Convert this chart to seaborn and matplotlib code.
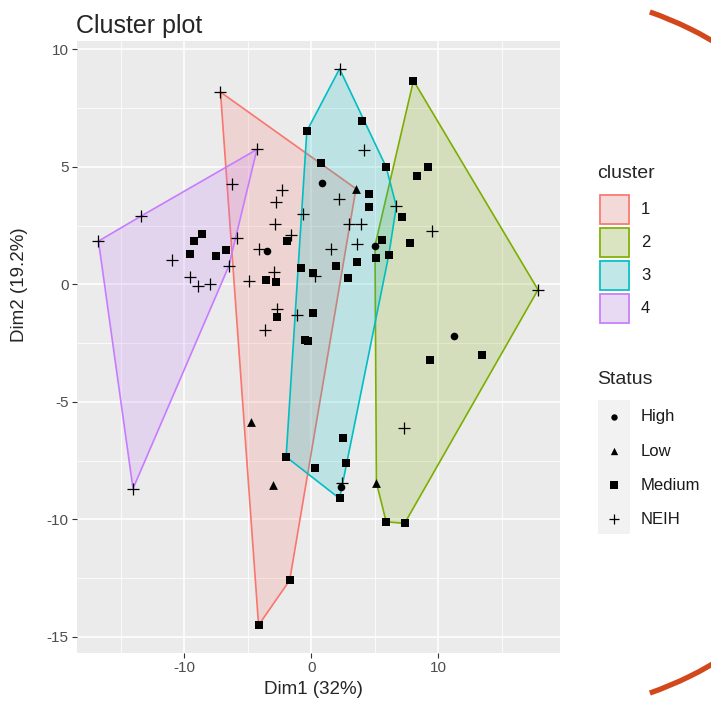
### Imports of the program
import matplotlib
matplotlib.use("Agg")
import matplotlib.pyplot as plt
from matplotlib.patches import Rectangle, Arc
import numpy as np
import pandas as pd
import seaborn as sns

### Data (Dim1, Dim2, Status) per cluster
c1_x = [-7.16, 3.51, -1.71, -4.16, -4.75, -3.02, -6.22, -5.84, -2.30, -2.77, -2.87, -1.60,
        -1.96, -4.88, -4.11, -3.51, -3.59, -2.77, -2.95, -2.69, -2.74, -3.64, 0.80]
c1_y = [8.18, 4.07, -12.59, -14.50, -5.85, -8.55, 4.28, 1.99, 4.03, 3.50, 2.58, 2.08,
        1.84, 0.13, 1.52, 1.42, 0.20, 0.10, 0.52, -1.03, -1.39, -1.93, 4.32]
c1_s = ["NEIH", "Low", "Medium", "Medium", "Low", "Low", "NEIH", "NEIH", "NEIH", "NEIH", "NEIH", "NEIH",
        "Medium", "NEIH", "NEIH", "High", "Medium", "Medium", "NEIH", "NEIH", "Medium", "NEIH", "High"]

c2_x = [8.04, 17.85, 7.34, 5.89, 5.12, 5.01, 9.15, 8.29, 9.46, 7.13, 7.73, 11.26, 13.41, 9.33, 7.26, 5.58]
c2_y = [8.67, -0.23, -10.17, -10.10, -8.43, 1.65, 4.99, 4.62, 2.27, 2.86, 1.77, -2.20, -2.99, -3.23, -6.09, 1.87]
c2_s = ["Medium", "NEIH", "Medium", "Medium", "Low", "High", "Medium", "Medium", "NEIH", "Medium", "Medium",
        "High", "Medium", "Medium", "NEIH", "Medium"]

c3_x = [2.22, 3.98, 5.89, 6.69, 6.10, 2.69, 2.22, -1.99, -0.67, -0.36, 4.11, 0.75, 2.15, 4.55, 4.55,
        3.00, 3.90, 3.57, 1.57, 5.12, 3.59, 1.91, 2.87, -0.80, 0.10, 0.30, 0.16, -0.49, -0.23, -1.14,
        0.29, 2.48, 2.43, 2.35]
c3_y = [9.17, 6.94, 4.99, 3.32, 1.26, -7.58, -9.11, -7.34, 2.98, 6.52, 5.70, 5.17, 3.64, 3.83, 3.29,
        2.58, 2.58, 1.73, 1.49, 1.12, 0.95, 0.78, 0.27, 0.69, 0.48, 0.35, -1.20, -2.35, -2.41, -1.29,
        -7.81, -6.53, -8.43, -8.64]
c3_s = ["NEIH", "Medium", "Medium", "NEIH", "Medium", "Medium", "Medium", "Medium", "NEIH", "Medium",
        "NEIH", "Medium", "NEIH", "Medium", "Medium", "NEIH", "NEIH", "NEIH", "NEIH", "Medium", "Medium",
        "Medium", "Medium", "Medium", "Medium", "NEIH", "Medium", "Medium", "Medium", "NEIH",
        "Medium", "Medium", "NEIH", "High"]

c4_x = [-4.29, -13.46, -16.77, -14.05, -6.51, -8.63, -9.22, -9.53, -10.95, -7.52, -6.74, -9.59, -8.94, -7.98]
c4_y = [5.74, 2.89, 1.84, -8.69, 0.77, 2.16, 1.84, 1.28, 1.02, 1.19, 1.45, 0.31, -0.09, 0.03]
c4_s = ["NEIH", "NEIH", "NEIH", "NEIH", "NEIH", "Medium", "Medium", "Medium", "NEIH", "Medium", "Medium",
        "NEIH", "NEIH", "NEIH"]

clusters = ["1", "2", "3", "4"]
cluster_colors = ["#F8766D", "#7CAE00", "#00BFC4", "#C77CFF"]
statuses = ["High", "Low", "Medium", "NEIH"]
status_markers = {"High": "o", "Low": "^", "Medium": "s", "NEIH": "+"}
status_sizes = {"High": 30, "Low": 40, "Medium": 40, "NEIH": 80}


def convex_hull(pts):
    """Monotone chain convex hull, returns the hull vertices in order"""
    pts = sorted(set(pts))
    def cross(o, a, b):
        return (a[0] - o[0]) * (b[1] - o[1]) - (a[1] - o[1]) * (b[0] - o[0])
    lower, upper = [], []
    for p in pts:
        while len(lower) >= 2 and cross(lower[-2], lower[-1], p) <= 0:
            lower.pop()
        lower.append(p)
    for p in reversed(pts):
        while len(upper) >= 2 and cross(upper[-2], upper[-1], p) <= 0:
            upper.pop()
        upper.append(p)
    return lower[:-1] + upper[:-1]


def main():
    ## Builds one table from the lists
    frames = []
    for c, xs, ys, ss in zip(clusters, [c1_x, c2_x, c3_x, c4_x], [c1_y, c2_y, c3_y, c4_y],
                             [c1_s, c2_s, c3_s, c4_s]):
        frames.append(pd.DataFrame({"Dim1": xs, "Dim2": ys, "Status": ss, "cluster": c}))
    data = pd.concat(frames, ignore_index=True)

    sns.set_theme(style="darkgrid", rc={
        "axes.facecolor": "#EBEBEB", "grid.color": "white",
        "xtick.color": "#333333", "ytick.color": "#333333",
        "axes.unicode_minus": False,
    })
    plt.rcParams["font.family"] = ["Liberation Sans", "DejaVu Sans"]

    fig = plt.figure(figsize=(7.11, 7.05), dpi=100)
    W, H = 711, 705
    left, right, top, bottom = 76.5, 560, 41, 653
    ax = fig.add_axes([left / W, 1 - bottom / H, (right - left) / W, (bottom - top) / H])

    ## Hulls of the clusters
    for c, col in zip(clusters, cluster_colors):
        sub = data[data["cluster"] == c]
        hull = convex_hull(list(zip(sub["Dim1"], sub["Dim2"])))
        hx = [p[0] for p in hull]
        hy = [p[1] for p in hull]
        ax.fill(hx, hy, facecolor=col, alpha=0.2, zorder=2, linewidth=0)
        ax.fill(hx, hy, facecolor="none", edgecolor=col, linewidth=1.2, zorder=2)

    ## Points by status
    for s in statuses:
        sub = data[data["Status"] == s]
        kw = dict(linewidth=0.9) if s == "NEIH" else dict(linewidth=0, edgecolor="black")
        sns.scatterplot(data=sub, x="Dim1", y="Dim2", marker=status_markers[s], color="black",
                        s=status_sizes[s], ax=ax, legend=False, zorder=3, **kw)

    ## Limits with ggplot expansion
    xr = data["Dim1"].max() - data["Dim1"].min()
    yr = data["Dim2"].max() - data["Dim2"].min()
    ax.set_xlim(data["Dim1"].min() - 0.05 * xr, data["Dim1"].max() + 0.05 * xr)
    ax.set_ylim(data["Dim2"].min() - 0.05 * yr, data["Dim2"].max() + 0.05 * yr)
    ax.set_xticks([-10, 0, 10])
    ax.set_xticks([-15, -5, 5, 15], minor=True)
    ax.set_yticks([-15, -10, -5, 0, 5, 10])
    ax.set_yticks([-12.5, -7.5, -2.5, 2.5, 7.5], minor=True)
    ax.grid(which="major", color="white", linewidth=1.1)
    ax.grid(which="minor", color="white", linewidth=0.55)
    ax.tick_params(which="major", length=3.5, width=0.8, color="#333333", labelsize=11,
                   labelcolor="#4D4D4D", pad=2, bottom=True, left=True)
    ax.tick_params(which="minor", length=0)
    for sp in ax.spines.values():
        sp.set_visible(False)
    ax.set_xlabel("Dim1 (32%)", fontsize=13.5)
    ax.set_ylabel("Dim2 (19.2%)", fontsize=13.5)
    ax.xaxis.set_label_coords((313 - left) / (right - left), -(689 - bottom) / (bottom - top))
    ax.yaxis.set_label_coords((20 - left) / (right - left), (bottom - 285) / (bottom - top))
    ax.xaxis.label.set_va("center")
    ax.yaxis.label.set_va("center")
    ax.set_title("Cluster plot", fontsize=18, loc="left", pad=6)

    ## Legends drawn in pixel space on an overlay
    lax = fig.add_axes([0, 0, 1, 1], facecolor="none")
    lax.set_xlim(0, W)
    lax.set_ylim(H, 0)
    lax.axis("off")

    lax.text(597, 173, "cluster", fontsize=14, va="center", ha="left")
    for i, (c, col) in enumerate(zip(clusters, cluster_colors)):
        y0 = 194 + i * 33
        lax.add_patch(Rectangle((598.5, y0), 31, 31, facecolor="#F2F2F2", edgecolor="none"))
        lax.add_patch(Rectangle((598.5, y0), 31, 31, facecolor=col, alpha=0.2, edgecolor="none"))
        lax.add_patch(Rectangle((599.5, y0 + 1), 29, 29, facecolor="none", edgecolor=col, linewidth=1.2))
        lax.text(641, y0 + 15.5, c, fontsize=12, va="center", ha="left", color="#1A1A1A")

    lax.text(597, 380, "Status", fontsize=14, va="center", ha="left")
    lax.add_patch(Rectangle((598, 400), 32, 134, facecolor="#F2F2F2", edgecolor="none"))
    for i, s in enumerate(statuses):
        yk = 417 + i * 34
        kw = dict(linewidths=0.9) if s == "NEIH" else dict(linewidths=0)
        lax.scatter([614], [yk], marker=status_markers[s], s=status_sizes[s] * 0.7, color="black", **kw)
        lax.text(641, yk, s, fontsize=12, va="center", ha="left", color="#1A1A1A")

    ## Orange slide decoration on the right edge
    for t1, t2 in [(-70.7, -57), (57, 70.7)]:
        lax.add_patch(Arc((530.6, 352.5), 2 * 360.8, 2 * 360.8, theta1=t1, theta2=t2,
                          color="#D2471C", linewidth=3.8))

    fig.savefig("out.png", dpi=100)


### Runs the main function
if __name__ == '__main__':
    main()
